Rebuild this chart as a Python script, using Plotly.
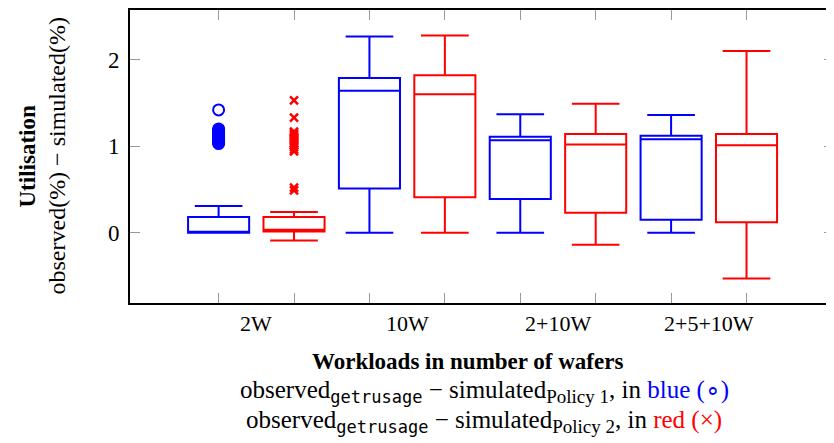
import plotly.graph_objects as go

categories = ["2W", "10W", "2+10W", "2+5+10W"]

# Policy 1 (blue) box statistics per workload
p1_lower = [0.00, 0.00, 0.00, 0.00]
p1_q1 = [0.00, 0.51, 0.39, 0.15]
p1_median = [0.01, 1.64, 1.07, 1.08]
p1_q3 = [0.18, 1.79, 1.11, 1.12]
p1_upper = [0.31, 2.27, 1.37, 1.36]
p1_outliers_2w = [1.03, 1.04, 1.05, 1.06, 1.07, 1.08, 1.09, 1.10, 1.11, 1.12,
                  1.13, 1.14, 1.15, 1.16, 1.17, 1.18, 1.19, 1.20, 1.42]

# Policy 2 (red) box statistics per workload
p2_lower = [-0.09, 0.00, -0.14, -0.53]
p2_q1 = [0.015, 0.41, 0.23, 0.12]
p2_median = [0.035, 1.60, 1.02, 1.01]
p2_q3 = [0.18, 1.82, 1.14, 1.14]
p2_upper = [0.24, 2.28, 1.49, 2.10]
p2_outliers_2w = [1.53, 1.33, 1.17, 1.15, 1.13, 1.11, 1.09, 1.07, 1.05, 1.03,
                  1.01, 0.99, 0.96, 0.94, 0.52, 0.49]

BLUE = "#0000ff"
RED = "#ff0000"
FONT = "Liberation Serif"

n = len(categories)
pos1 = [2 * i + 1 for i in range(n)]
pos2 = [2 * i + 2 for i in range(n)]

fig = go.Figure()
for pos, lo, q1, med, q3, hi, col in [
    (pos1, p1_lower, p1_q1, p1_median, p1_q3, p1_upper, BLUE),
    (pos2, p2_lower, p2_q1, p2_median, p2_q3, p2_upper, RED),
]:
    fig.add_trace(go.Box(
        x=pos, q1=q1, median=med, q3=q3, lowerfence=lo, upperfence=hi,
        width=0.81, whiskerwidth=0.78,
        line=dict(color=col, width=2), fillcolor="rgba(0,0,0,0)",
        boxpoints=False, showlegend=False, hoverinfo="skip",
    ))

fig.add_trace(go.Scatter(
    x=[pos1[0]] * len(p1_outliers_2w), y=p1_outliers_2w, mode="markers",
    marker=dict(symbol="circle-open", size=11, color=BLUE, line=dict(width=2, color=BLUE)),
    showlegend=False, hoverinfo="skip"))
fig.add_trace(go.Scatter(
    x=[pos2[0]] * len(p2_outliers_2w), y=p2_outliers_2w, mode="markers",
    marker=dict(symbol="x-thin-open", size=8, color=RED, line=dict(width=2.5, color=RED)),
    showlegend=False, hoverinfo="skip"))
# invisible carrier so the right-hand tick axis is drawn
fig.add_trace(go.Scatter(x=[pos1[0]], y=[p1_lower[0]], yaxis="y2", mode="none",
                         showlegend=False, hoverinfo="skip"))

yr = [-0.813, 2.575]
xr = [1 - 1.175, pos2[-1] + 1.16]

fig.update_layout(
    width=826, height=435,
    margin=dict(l=122, r=0, t=2, b=140),
    paper_bgcolor="white", plot_bgcolor="white",
    font=dict(family=FONT, size=22, color="black"),
    xaxis=dict(range=xr, tickvals=pos1 + pos2, ticktext=[""] * (2 * n),
               ticks="inside", ticklen=10, tickwidth=1, tickcolor="#999999",
               showline=True, linecolor="black", linewidth=2, mirror="ticks",
               showgrid=False, zeroline=False),
    yaxis=dict(range=yr, tickvals=[0, 1, 2], ticktext=["0", "1", "2"],
               ticks="inside", ticklen=10, tickwidth=1, tickcolor="#999999",
               showline=True, linecolor="black", linewidth=2,
               showgrid=False, zeroline=False, tickfont=dict(size=23),
               ticklabelstandoff=4),
    yaxis2=dict(range=yr, overlaying="y", side="right", tickvals=[0, 1, 2],
                showticklabels=False, ticks="inside", ticklen=10, tickwidth=1,
                tickcolor="#999999", showline=False, showgrid=False, zeroline=False),
)

MONO_SUB = "<sub><span style=\"font-family:'DejaVu Sans Mono';font-size:17px\">getrusage</span></sub>"

annotations = []
for i, c in enumerate(categories):
    annotations.append(dict(x=(pos1[i] + pos2[i]) / 2, y=0, xref="x", yref="paper",
                            yanchor="middle", yshift=-20, text=c, showarrow=False,
                            font=dict(size=22)))

annotations += [
    dict(x=0.48, y=0, xref="paper", yref="paper", yanchor="middle", yshift=-58,
         text="<b>Workloads in number of wafers</b>", showarrow=False, font=dict(size=23)),
    dict(x=0.503, y=0, xref="paper", yref="paper", yanchor="middle", yshift=-88,
         text=("observed" + MONO_SUB +
               " − simulated<sub><span style='font-size:19px'>Policy 1</span></sub>, in "
               f"<span style='color:{BLUE}'>blue (∘)</span>"),
         showarrow=False, font=dict(size=25)),
    dict(x=0.503, y=0, xref="paper", yref="paper", yanchor="middle", yshift=-118,
         text=("observed" + MONO_SUB +
               " − simulated<sub><span style='font-size:19px'>Policy 2</span></sub>, in "
               f"<span style='color:{RED}'>red (×)</span>"),
         showarrow=False, font=dict(size=25)),
    dict(x=0, y=0.5, xref="paper", yref="paper", xanchor="center", yanchor="middle",
         xshift=-103, text="<b>Utilisation</b>", textangle=-90, showarrow=False,
         font=dict(size=23)),
    dict(x=0, y=0.5, xref="paper", yref="paper", xanchor="center", yanchor="middle",
         xshift=-74, text="observed(%) − simulated(%)", textangle=-90, showarrow=False,
         font=dict(size=24)),
]
fig.update_layout(annotations=annotations)

fig.write_html("out.html")
